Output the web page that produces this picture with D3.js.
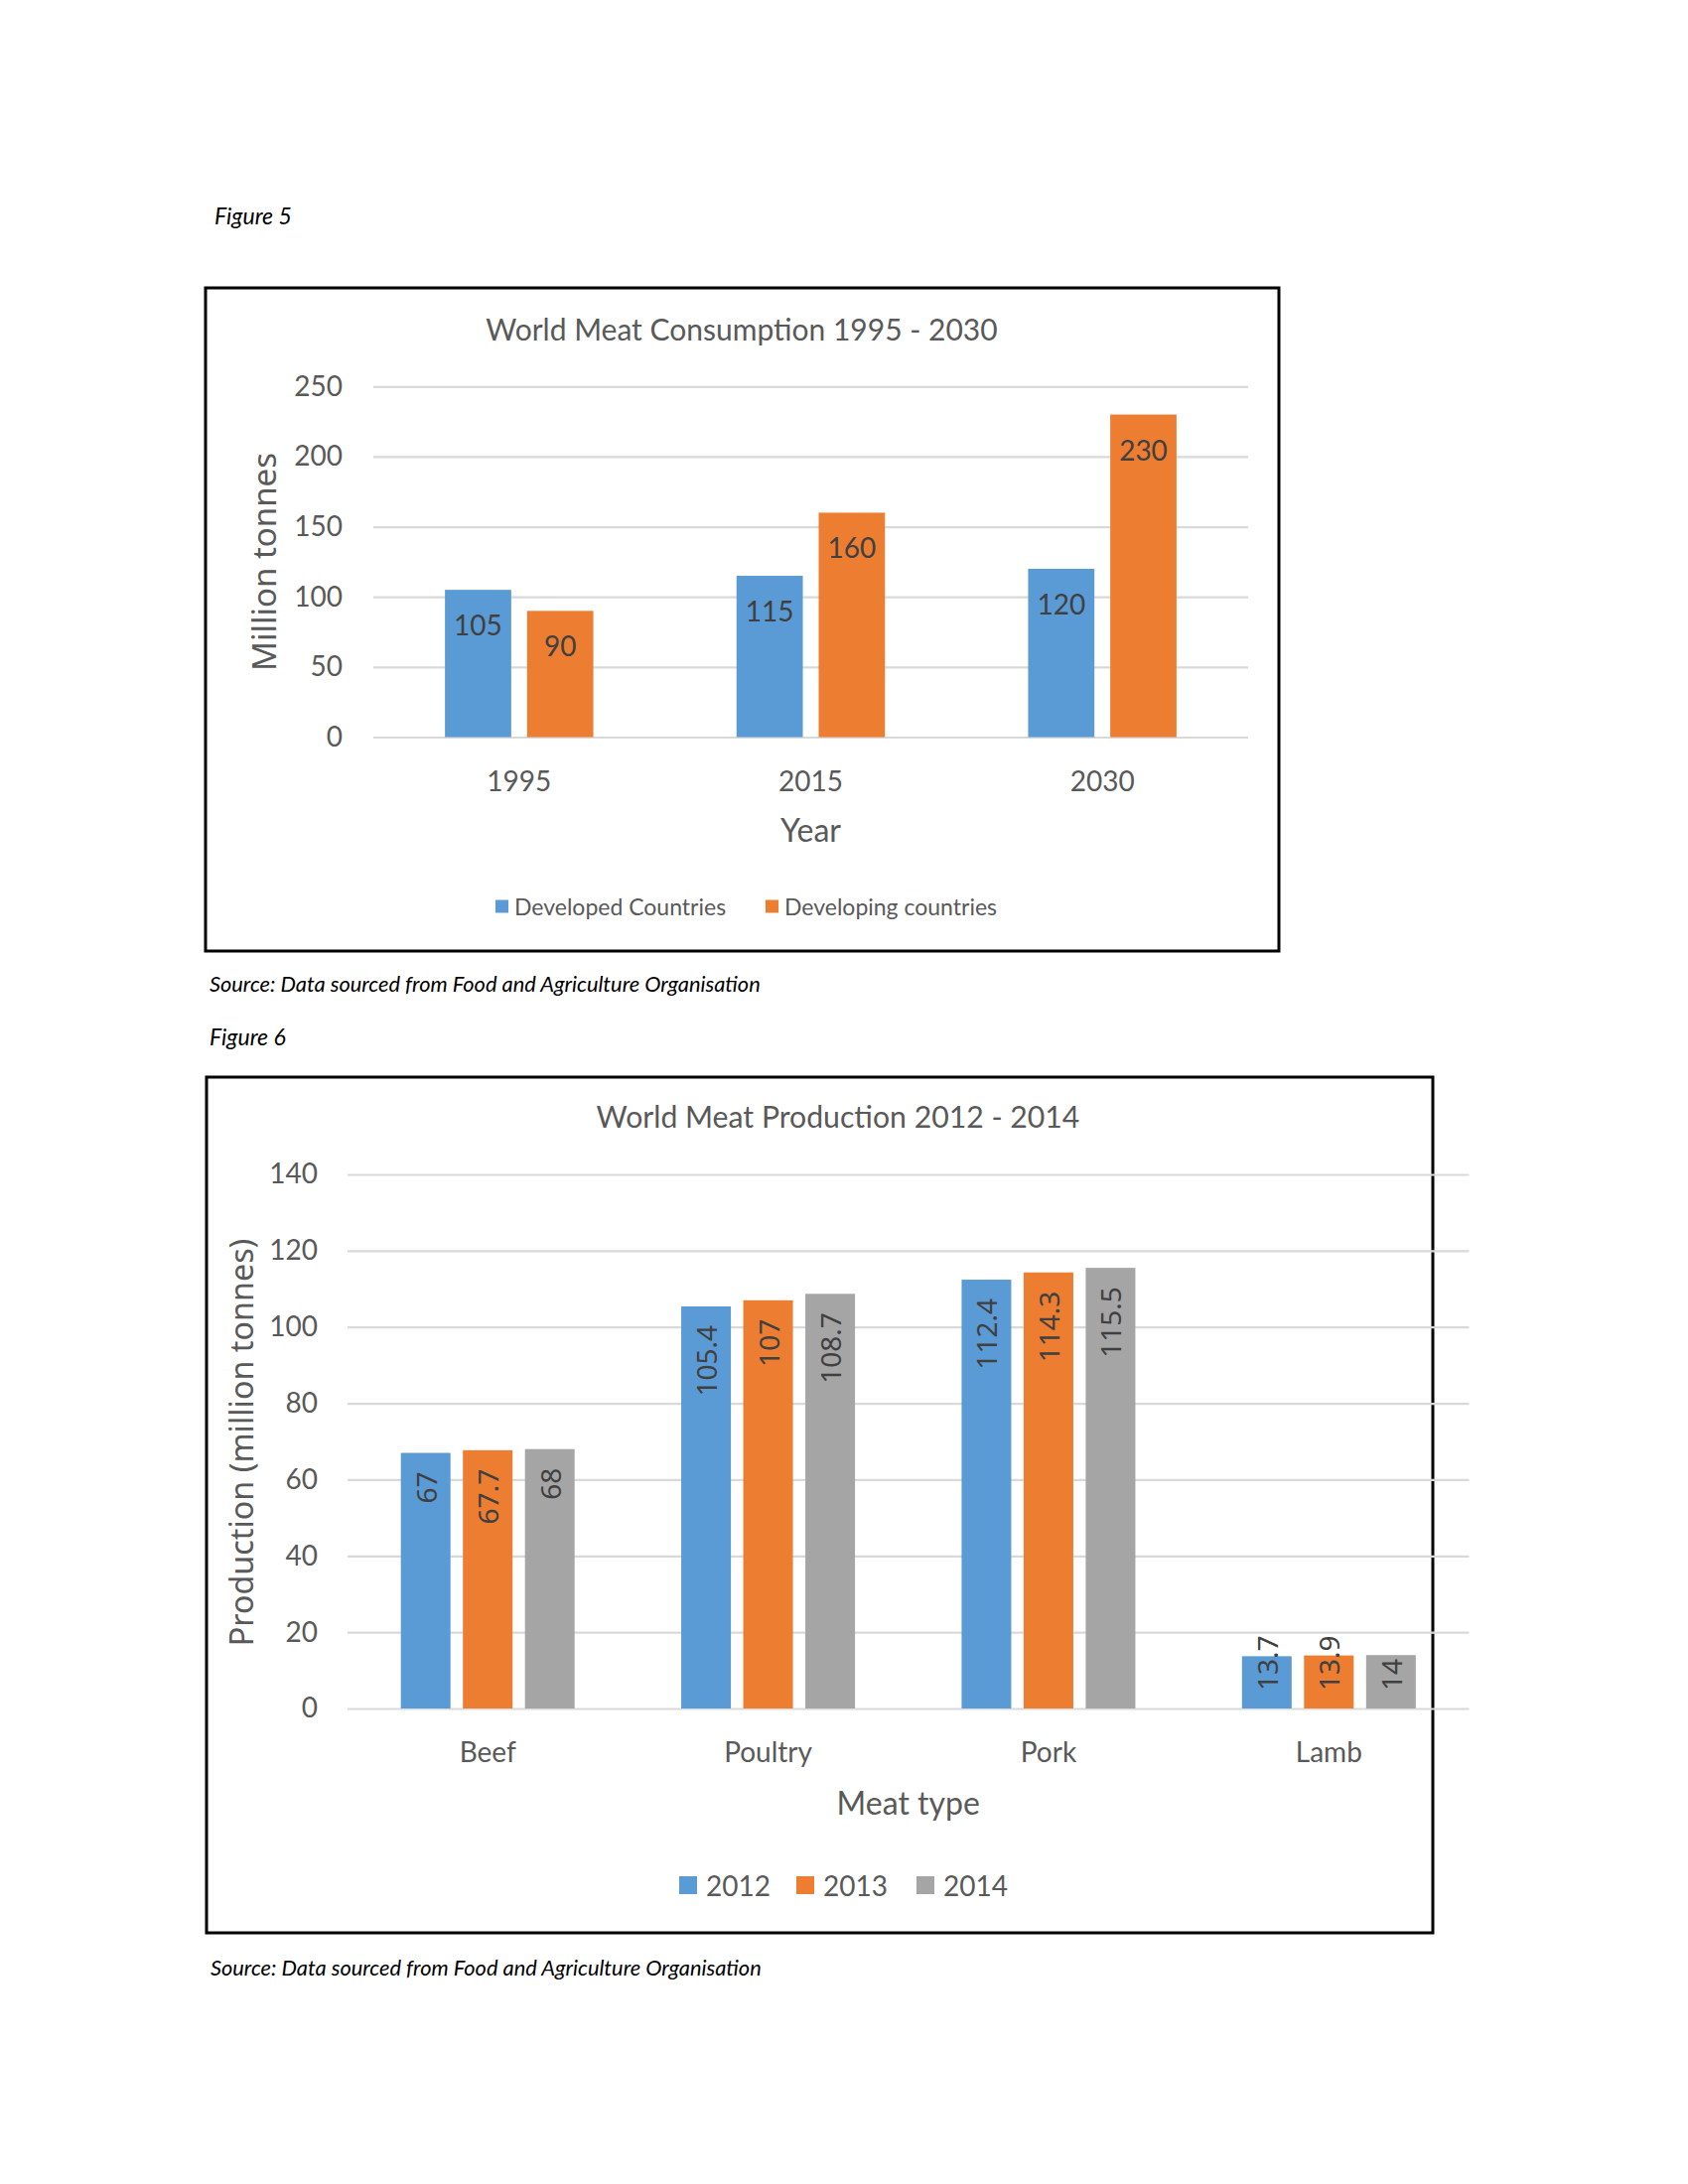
<!DOCTYPE html>
<html>
<head>
<meta charset="utf-8">
<script src="https://cdn.jsdelivr.net/npm/d3@7"></script>
<style>
  body { margin: 0; background: #fff; }
  svg { display: block; }
</style>
</head>
<body>
<svg id="page" width="1700" height="2200"></svg>
<script>
// figure 5 data
const consumptionYears = ['1995', '2015', '2030']
const consumptionSeries = ['Developed Countries', 'Developing countries']
const developed = [105, 115, 120]
const developing = [90, 160, 230]
const consumptionTicks = [0, 50, 100, 150, 200, 250]

// figure 6 data
const meatTypes = ['Beef', 'Poultry', 'Pork', 'Lamb']
const productionSeries = ['2012', '2013', '2014']
const prod2012 = [67, 105.4, 112.4, 13.7]
const prod2013 = [67.7, 107, 114.3, 13.9]
const prod2014 = [68, 108.7, 115.5, 14]
const productionTicks = [0, 20, 40, 60, 80, 100, 120, 140]

const blue = '#5B9BD5'
const orange = '#ED7D31'
const grey = '#A5A5A5'
const textColor = '#595959'
const labelColor = '#404040'
const mainFont = 'Lato, "Open Sans", sans-serif'
const wideFont = '"Noto Sans", "DejaVu Sans", sans-serif'

const svg = d3.select('#page')
svg.append('rect').attr('width', 1700).attr('height', 2200).attr('fill', '#fff')

const note = (x, y, txt, size) => svg.append('text')
	.attr('x', x).attr('y', y)
	.attr('dominant-baseline', 'central')
	.style('font-family', mainFont)
	.style('font-style', 'italic')
	.style('font-size', size + 'px')
	.attr('fill', '#000')
	.text(txt)

const drawChart = (opt) => {
	const g = svg.append('g')

	g.append('rect')
		.attr('x', opt.box[0]).attr('y', opt.box[1])
		.attr('width', opt.box[2]).attr('height', opt.box[3])
		.attr('fill', 'none').attr('stroke', '#000').attr('stroke-width', 3)

	g.append('text')
		.attr('x', opt.titleX).attr('y', opt.titleY)
		.attr('text-anchor', 'middle').attr('dominant-baseline', 'central')
		.style('font-family', mainFont).style('font-size', opt.titleSize + 'px')
		.attr('fill', textColor)
		.text(opt.title)

	const yScale = d3.scaleLinear()
		.domain([0, d3.max(opt.ticks)])
		.range([opt.base, opt.top])

	const x0 = d3.scaleBand()
		.domain(opt.categories)
		.range([opt.left, opt.right])

	const x1 = d3.scaleBand()
		.domain(opt.series)
		.range([0, x0.bandwidth()])
		.paddingInner(opt.inner)
		.paddingOuter(opt.outer)

	const yAxis = d3.axisLeft(yScale)
		.tickValues(opt.ticks)
		.tickSize(-(opt.right - opt.left))
		.tickPadding(opt.tickPad)

	const yG = g.append('g')
		.attr('transform', `translate(${opt.left}, 0)`)
		.call(yAxis)
	yG.select('path.domain').remove()
	yG.selectAll('.tick line').style('stroke', '#D9D9D9').style('stroke-width', 2.2)
	yG.selectAll('.tick text')
		.attr('fill', textColor)
		.style('font-family', mainFont).style('font-size', '28px')

	const xAxis = d3.axisBottom(x0).tickSize(0).tickPadding(0)
	const xG = g.append('g')
		.attr('transform', `translate(0, ${opt.base})`)
		.call(xAxis)
	xG.select('path.domain').remove()
	xG.selectAll('.tick text')
		.attr('y', opt.catGap).attr('dy', null)
		.attr('dominant-baseline', 'central')
		.attr('fill', textColor)
		.style('font-family', mainFont).style('font-size', '28px')

	// bars
	const rows = []
	opt.categories.forEach((c, i) => {
		opt.series.forEach((s, j) => {
			rows.push({ cat: c, ser: s, value: opt.values[j][i], color: opt.colors[j] })
		})
	})

	g.append('g').selectAll('rect')
		.data(rows)
		.enter()
		.append('rect')
		.attr('x', d => x0(d.cat) + x1(d.ser))
		.attr('y', d => yScale(d.value))
		.attr('width', x1.bandwidth())
		.attr('height', d => opt.base - yScale(d.value))
		.attr('fill', d => d.color)

	// data labels
	const labels = g.append('g').selectAll('text')
		.data(rows)
		.enter()
		.append('text')
		.attr('fill', labelColor)
		.text(d => d.value)

	if (opt.rotated) {
		labels
			.style('font-family', wideFont).style('font-size', opt.labelSize + 'px')
			.attr('text-anchor', 'end')
			.attr('dominant-baseline', 'central')
			.each(function (d) {
				const len = this.getComputedTextLength()
				let topY = yScale(d.value) + 19
				// short bars: push the label down so it sits on the base
				if (topY + len > opt.base - 18) topY = opt.base - 18 - len
				const cx = x0(d.cat) + x1(d.ser) + x1.bandwidth() / 2
				d3.select(this)
					.attr('transform', `translate(${cx}, ${topY}) rotate(-90)`)
			})
	} else {
		labels
			.style('font-family', mainFont).style('font-size', opt.labelSize + 'px')
			.attr('text-anchor', 'middle')
			.attr('dominant-baseline', 'central')
			.attr('x', d => x0(d.cat) + x1(d.ser) + x1.bandwidth() / 2)
			.attr('y', d => yScale(d.value) + 35)
	}

	// axis titles
	g.append('text')
		.attr('transform', `translate(${opt.yTitleX}, ${opt.yTitleY}) rotate(-90)`)
		.attr('text-anchor', 'middle').attr('dominant-baseline', 'central')
		.style('font-family', wideFont).style('font-size', opt.yTitleSize + 'px')
		.attr('fill', textColor)
		.text(opt.yTitle)

	g.append('text')
		.attr('x', (opt.left + opt.right) / 2).attr('y', opt.xTitleY)
		.attr('text-anchor', 'middle').attr('dominant-baseline', 'central')
		.style('font-family', mainFont).style('font-size', '32px')
		.attr('fill', textColor)
		.text(opt.xTitle)

	// legend
	const leg = g.append('g').selectAll('g')
		.data(opt.series)
		.enter()
		.append('g')
		.attr('transform', (d, i) => `translate(${opt.legendX[i]}, ${opt.legendY})`)
	leg.append('rect')
		.attr('x', 0).attr('y', -opt.legendBox / 2)
		.attr('width', opt.legendBox).attr('height', opt.legendBox)
		.attr('fill', (d, i) => opt.colors[i])
	leg.append('text')
		.attr('x', opt.legendText).attr('y', 0)
		.attr('dominant-baseline', 'central')
		.style('font-family', mainFont).style('font-size', opt.legendSize + 'px')
		.attr('fill', textColor)
		.text(d => d)
}

note(216, 217, 'Figure 5', 23)

drawChart({
	box: [207, 290, 1081, 668],
	title: 'World Meat Consumption 1995 - 2030',
	titleX: 747, titleY: 331, titleSize: 30,
	categories: consumptionYears,
	series: consumptionSeries,
	values: [developed, developing],
	colors: [blue, orange],
	ticks: consumptionTicks,
	left: 376, right: 1257, top: 389.3, base: 742.5,
	inner: 0.193, outer: 0.872,
	tickPad: 31, catGap: 43,
	rotated: false, labelSize: 28,
	yTitle: 'Million tonnes', yTitleX: 265, yTitleY: 566, yTitleSize: 33,
	xTitle: 'Year', xTitleY: 835.5,
	legendX: [499, 771], legendY: 913, legendBox: 13, legendText: 19, legendSize: 23
})

note(211, 990, 'Source: Data sourced from Food and Agriculture Organisation', 21.8)
note(211, 1044, 'Figure 6', 23)

drawChart({
	box: [208, 1085, 1235, 862],
	title: 'World Meat Production 2012 - 2014',
	titleX: 844, titleY: 1124, titleSize: 30.2,
	categories: meatTypes,
	series: productionSeries,
	values: [prod2012, prod2013, prod2014],
	colors: [blue, orange, grey],
	ticks: productionTicks,
	left: 350, right: 1479.5, top: 1183, base: 1721,
	inner: 0.2, outer: 0.859,
	tickPad: 30, catGap: 43,
	rotated: true, labelSize: 28,
	yTitle: 'Production (million tonnes)', yTitleX: 242, yTitleY: 1453, yTitleSize: 32.3,
	xTitle: 'Meat type', xTitleY: 1815.5,
	legendX: [684, 802, 923], legendY: 1899, legendBox: 18, legendText: 27, legendSize: 28
})

note(212, 1981, 'Source: Data sourced from Food and Agriculture Organisation', 21.8)
</script>
</body>
</html>
